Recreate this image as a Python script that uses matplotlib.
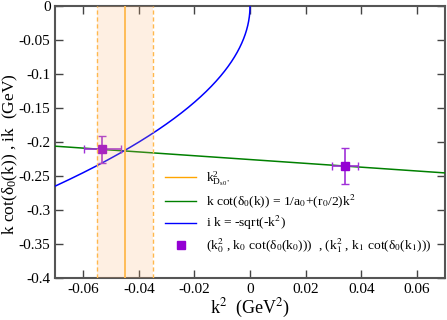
import numpy as np
import matplotlib
matplotlib.use('Agg')
import matplotlib.pyplot as plt

plt.rcParams['font.family'] = ['Liberation Serif', 'DejaVu Serif']
plt.rcParams['mathtext.fontset'] = 'stix'

# datos
k2_pts = [-0.0531, 0.0343]
kcot_pts = [-0.2108, -0.2353]
xerr_pts = [0.0066, 0.0047]
yerr_pts = [0.0196, 0.027]

k2_Ds0 = -0.045
k2_Ds0_lo = -0.055
k2_Ds0_hi = -0.035

# recta de alcance efectivo por los dos puntos
slope = (kcot_pts[1] - kcot_pts[0]) / (k2_pts[1] - k2_pts[0])
inv_a0 = kcot_pts[0] - slope * k2_pts[0]

x = np.linspace(-0.07, 0.07, 300)
xneg = np.linspace(-0.07, 0.0, 2000)

fig = plt.figure(figsize=(4.47, 3.20), dpi=100)
ax = fig.add_axes([0.124, 0.131, 0.8706, 0.85])

ax.plot(x, inv_a0 + slope * x, color='green', lw=1.1, zorder=3)
ax.plot(xneg, -np.sqrt(-xneg), color='blue', lw=1.1, zorder=3)

ax.errorbar(k2_pts, kcot_pts, xerr=xerr_pts, yerr=yerr_pts, fmt='s',
            color='#9400d3', ecolor='#a030d8', ms=6, capsize=3, elinewidth=1.2,
            zorder=4)

# banda
ax.axvspan(k2_Ds0_lo, k2_Ds0_hi, color='#fbb070', alpha=0.2, lw=0, zorder=5)
ax.axvline(k2_Ds0_lo, color='#ffb84d', lw=1, ls='--', dashes=(3, 2), zorder=5)
ax.axvline(k2_Ds0_hi, color='#ffb84d', lw=1, ls='--', dashes=(3, 2), zorder=5)
ax.axvline(k2_Ds0, color='#ffb84d', lw=1.3, zorder=5)

# leyenda
h1, = ax.plot([], [], color='orange', lw=1)
h2, = ax.plot([], [], color='green', lw=1)
h3, = ax.plot([], [], color='blue', lw=1)
h4, = ax.plot([], [], 's', color='#9400d3', ms=6, ls='none')
ax.legend([h1, h2, h3, h4],
          [r'$\mathregular{k^2_{D_{s0^*}}}$',
           r'k cot($\mathregular{\delta_0}$(k)) = 1/a$_0$+(r$_0$/2)k$^2$',
           r'i k = -sqrt(-k$^2$)',
           r'(k$_0^2$ , k$_0$ cot($\mathregular{\delta_0}$(k$_0$)))  , (k$_1^2$ , k$_1$ cot($\mathregular{\delta_0}$(k$_1$)))'],
          loc='upper left', bbox_to_anchor=(0.268, 0.42), frameon=False,
          fontsize=9.7, handlelength=2.3, labelspacing=0.32, handletextpad=0.7,
          borderaxespad=0)

ax.set_xlim(-0.07, 0.07)
ax.set_ylim(-0.4, 0)
ax.set_xticks([-0.06, -0.04, -0.02, 0, 0.02, 0.04, 0.06])
ax.set_xticklabels(['-0.06', '-0.04', '-0.02', '0', '0.02', '0.04', '0.06'])
ax.set_yticks(np.arange(-0.4, 0.001, 0.05))
ax.set_yticklabels(['-0.4', '-0.35', '-0.3', '-0.25', '-0.2', '-0.15', '-0.1', '-0.05', '0'])
ax.tick_params(direction='in', top=True, right=True, length=6, width=1,
               labelsize=11, color='#444444')
for s in ax.spines.values():
    s.set_linewidth(1.5)
    s.set_color('#555555')

ax.set_xlabel(r'k$^2$  (GeV$^2$)', fontsize=13)
ax.set_ylabel(r'k cot($\mathregular{\delta_0}$(k)) , ik  (GeV)', fontsize=12.5)
ax.xaxis.set_label_coords(0.5, -0.07)
ax.yaxis.set_label_coords(-0.092, 0.456)

fig.savefig('out.png', dpi=100)
